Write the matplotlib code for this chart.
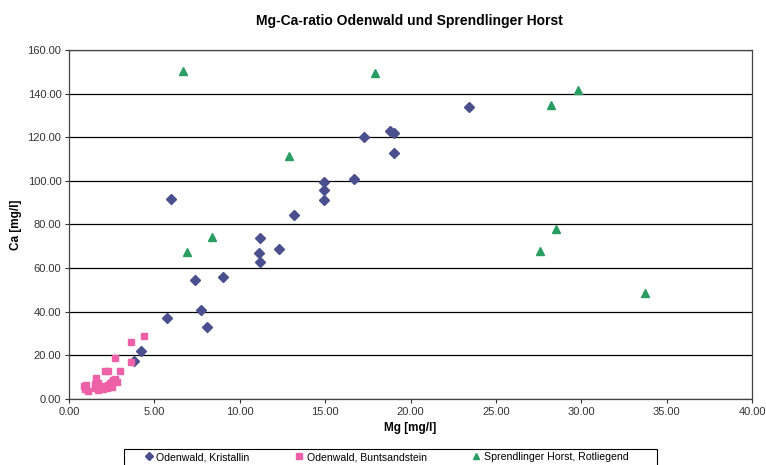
import matplotlib.pyplot as plt
from matplotlib.patches import Rectangle
import numpy as np

plt.rcParams['font.family'] = ['Liberation Sans', 'DejaVu Sans']

# Odenwald, Kristallin
krist_mg = [6.0, 7.4, 7.7, 8.1, 9.0, 5.75, 4.2, 3.8, 11.2, 11.1, 11.2, 12.3, 13.2,
            14.9, 14.9, 14.9, 16.7, 17.3, 18.8, 19.0, 19.0, 23.4]
krist_ca = [91.5, 54.7, 41.0, 32.8, 56.0, 37.2, 21.9, 17.3, 73.8, 67.0, 62.8, 68.8, 84.2,
            99.4, 95.7, 91.0, 101.0, 119.9, 123.0, 122.0, 113.0, 134.0]

# Odenwald, Buntsandstein
bunt_mg = [0.85, 0.95, 1.1, 1.0, 1.5, 1.6, 1.55, 1.7, 1.9, 2.0, 2.2, 2.3, 2.4, 2.5,
           2.6, 2.7, 2.8, 2.5, 2.1, 2.3, 3.0, 2.7, 3.65, 3.65, 4.4, 1.7, 2.0]
bunt_ca = [6.0, 4.5, 3.8, 6.5, 7.0, 9.5, 5.0, 4.0, 5.5, 4.5, 5.0, 6.5, 7.5, 8.0,
           8.5, 9.0, 8.0, 5.5, 13.0, 13.0, 13.0, 19.0, 17.0, 26.0, 29.0, 7.5, 6.0]

# Sprendlinger Horst, Rotliegend
rot_mg = [6.7, 6.9, 8.4, 12.9, 17.9, 28.2, 29.8, 28.5, 27.6, 33.7]
rot_ca = [150.5, 67.5, 74.3, 111.2, 149.5, 135.0, 141.8, 78.0, 67.9, 48.8]

fig = plt.figure(figsize=(7.66, 4.65), dpi=100)
ax = fig.add_axes([0.0901, 0.142, 0.8919, 0.7505])

ax.plot(krist_mg, krist_ca, 'D', color='#4a4f8e', markersize=4.8, label='Odenwald, Kristallin')
ax.plot(bunt_mg, bunt_ca, 's', color='#ee60a8', markersize=4.8, label='Odenwald, Buntsandstein')
ax.plot(rot_mg, rot_ca, '^', color='#2a9d63', markersize=5.5, label='Sprendlinger Horst, Rotliegend')

ticks_x = np.arange(0, 41, 5)
ticks_y = np.arange(0, 161, 20)
ax.set_xlim(0, 40)
ax.set_ylim(0, 160)
ax.set_xticks(ticks_x)
ax.set_yticks(ticks_y)
ax.set_xticklabels(['%.2f' % v for v in ticks_x], fontsize=8)
ax.set_yticklabels(['%.2f' % v for v in ticks_y], fontsize=8)
ax.yaxis.grid(True, color='black', linewidth=0.9)
ax.set_axisbelow(True)
ax.tick_params(direction='out', length=3, width=0.8, pad=2.5, color='#333333', labelcolor='#333333')
for s in ax.spines.values():
    s.set_color('#444444')
    s.set_linewidth(0.9)

ax.set_xlabel('Mg [mg/l]', fontsize=8.5, fontweight='bold', labelpad=4)
ax.set_ylabel('Ca [mg/l]', fontsize=8.5, fontweight='bold')
ax.yaxis.set_label_coords(-0.069, 0.5)
fig.text(0.535, 0.955, 'Mg-Ca-ratio Odenwald und Sprendlinger Horst', ha='center', va='center',
         fontsize=10, fontweight='bold')

# legend box sits at the bottom edge, lower border cut off like in the reference
box = Rectangle((0.1619, -0.05), 0.6958, 0.0844, transform=fig.transFigure,
                facecolor='white', edgecolor='black', linewidth=0.8, clip_on=False)
fig.add_artist(box)
leg = fig.legend(loc='center left', bbox_to_anchor=(0.1905, 0.0172), ncol=3, fontsize=7.6,
                 frameon=False, handlelength=0.6, handletextpad=0.4, markerscale=0.85,
                 columnspacing=4.4, borderpad=0, borderaxespad=0)

fig.savefig('out.png', dpi=100)
